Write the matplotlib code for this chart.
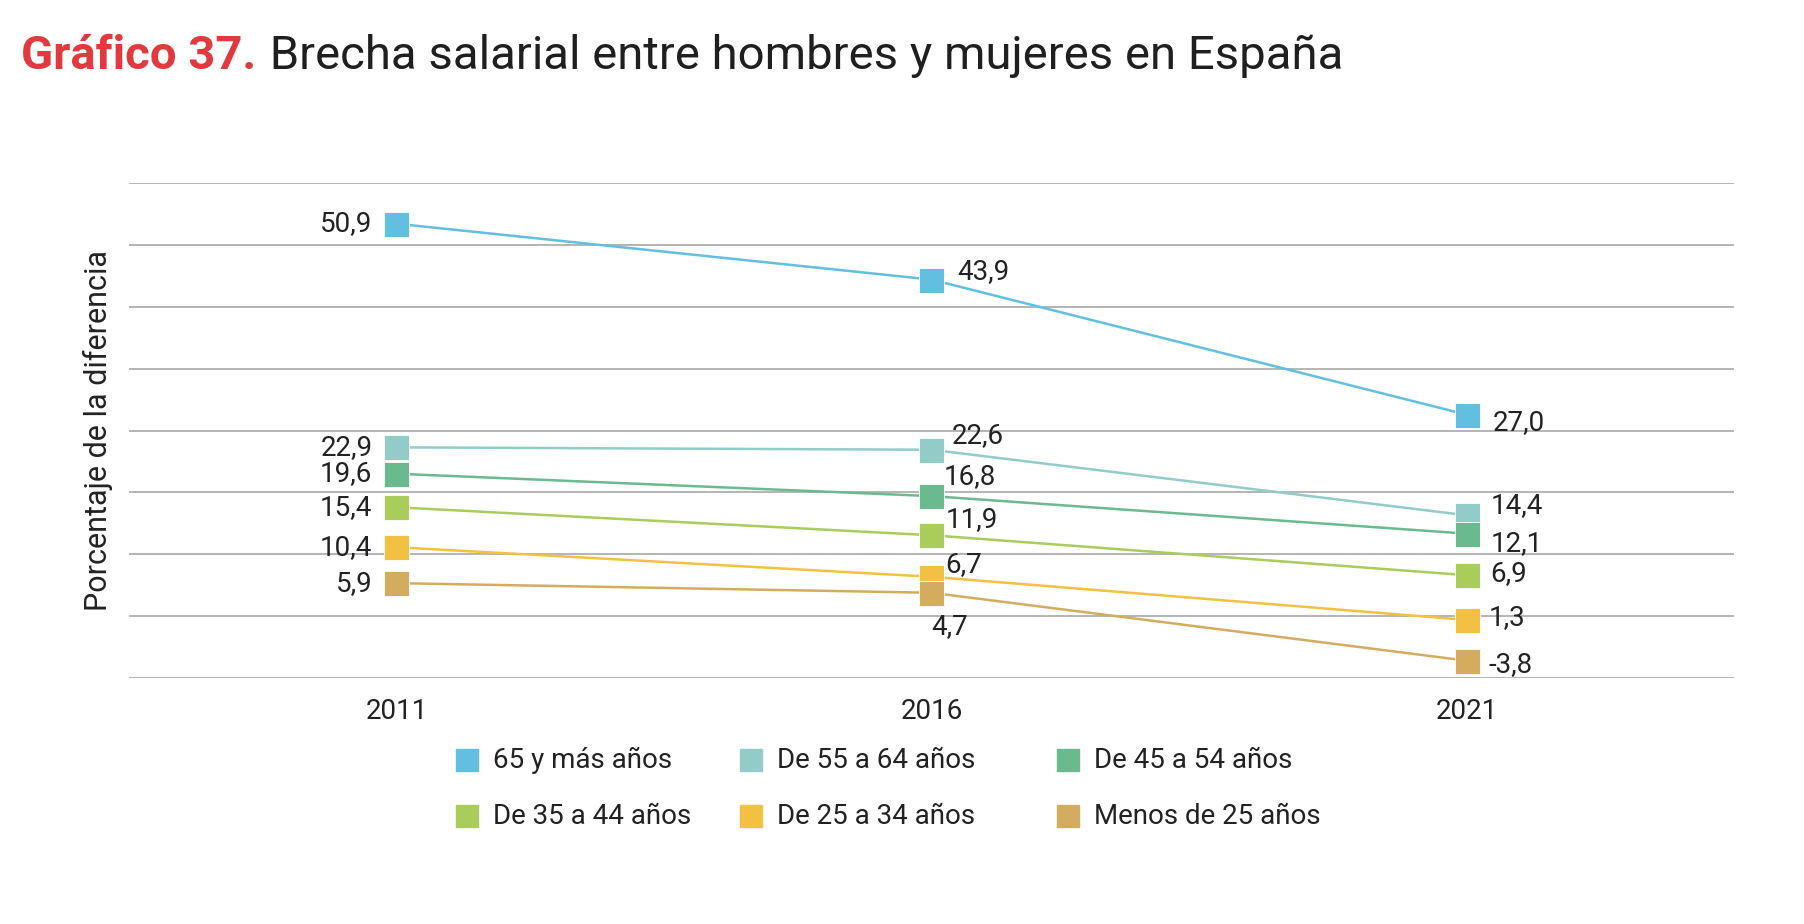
import matplotlib
matplotlib.use("Agg")
import matplotlib.pyplot as plt
from matplotlib.lines import Line2D
import numpy as np

plt.rcParams['font.family'] = ['Roboto', 'DejaVu Sans']

# datos
anios = ['2011', '2016', '2021']
grupos = ['65 y más años', 'De 55 a 64 años', 'De 45 a 54 años',
          'De 35 a 44 años', 'De 25 a 34 años', 'Menos de 25 años']
v65 = [50.9, 43.9, 27.0]
v55 = [22.9, 22.6, 14.4]
v45 = [19.6, 16.8, 12.1]
v35 = [15.4, 11.9, 6.9]
v25 = [10.4, 6.7, 1.3]
v_menos25 = [5.9, 4.7, -3.8]
series = [v65, v55, v45, v35, v25, v_menos25]

colores = ['#62BFE0', '#91CCC9', '#6BB98F', '#A9CC5A', '#F2C043', '#D4AC5F']

# desplazamiento de etiquetas (px) por serie y año
desp = [
    [(-24, 0, 'right'), (26, 8, 'left'), (26, -8, 'left')],
    [(-24, 0, 'right'), (20, 14, 'left'), (24, 10, 'left')],
    [(-24, 0, 'right'), (12, 20, 'left'), (24, -10, 'left')],
    [(-24, 0, 'right'), (14, 16, 'left'), (24, 2, 'left')],
    [(-24, 0, 'right'), (14, 12, 'left'), (22, 2, 'left')],
    [(-24, 0, 'right'), (18, -34, 'center'), (22, -4, 'left')],
]

fig = plt.figure(figsize=(18.04, 9.24), dpi=100)
ax = fig.add_axes([0.0715, 0.266, 0.8897, 0.536])

x = np.arange(len(anios))
for vals, col, dd in zip(series, colores, desp):
    ax.plot(x, vals, color=col, lw=1.8, marker='s', ms=18,
            mfc=col, mec='white', mew=0.6, zorder=3)
    for xi, v, (dx, dy, ha) in zip(x, vals, dd):
        ax.annotate(f"{v:.1f}".replace('.', ','), (xi, v), xytext=(dx, dy),
                    textcoords='offset pixels', ha=ha, va='center',
                    fontsize=20, color='#222222')

ax.set_xlim(-0.5, 2.5)
ax.set_ylim(-6, 56)
ax.set_yticks(np.linspace(-6, 56, 9))
ax.set_yticklabels([])
ax.tick_params(axis='y', length=0)
ax.grid(axis='y', color='#a0a0a0', lw=1.1)
ax.set_axisbelow(True)
ax.set_xticks(x)
ax.set_xticklabels(anios, fontsize=20, color='#222222')
ax.tick_params(axis='x', length=0, pad=14)
for s in ax.spines.values():
    s.set_visible(False)

ax.set_ylabel('Porcentaje de la diferencia', fontsize=22, color='#222222', labelpad=8)

# titulo
t1 = fig.text(21 / 1804, 1 - 69 / 924, 'Gráfico 37.', fontsize=34, fontweight='bold',
              color='#E0393E', va='baseline')
fig.canvas.draw()
ax.annotate(' Brecha salarial entre hombres y mujeres en España', xy=(1, 0), xycoords=t1,
            xytext=(2, 0), textcoords='offset pixels', va='bottom', ha='left',
            fontsize=34, color='#1f1f1f', annotation_clip=False)

# leyenda
col_x = [467, 751, 1068]
fila_y = [760, 816]
for i, (g, c) in enumerate(zip(grupos, colores)):
    xm = col_x[i % 3]
    ym = fila_y[i // 3]
    fig.add_artist(Line2D([xm / 1804], [1 - ym / 924], transform=fig.transFigure,
                          marker='s', ms=16.5, color=c, lw=0))
    fig.text((xm + 26) / 1804, 1 - ym / 924, g, fontsize=20, color='#222222',
             va='center', ha='left')

fig.savefig('out.png', dpi=100)
